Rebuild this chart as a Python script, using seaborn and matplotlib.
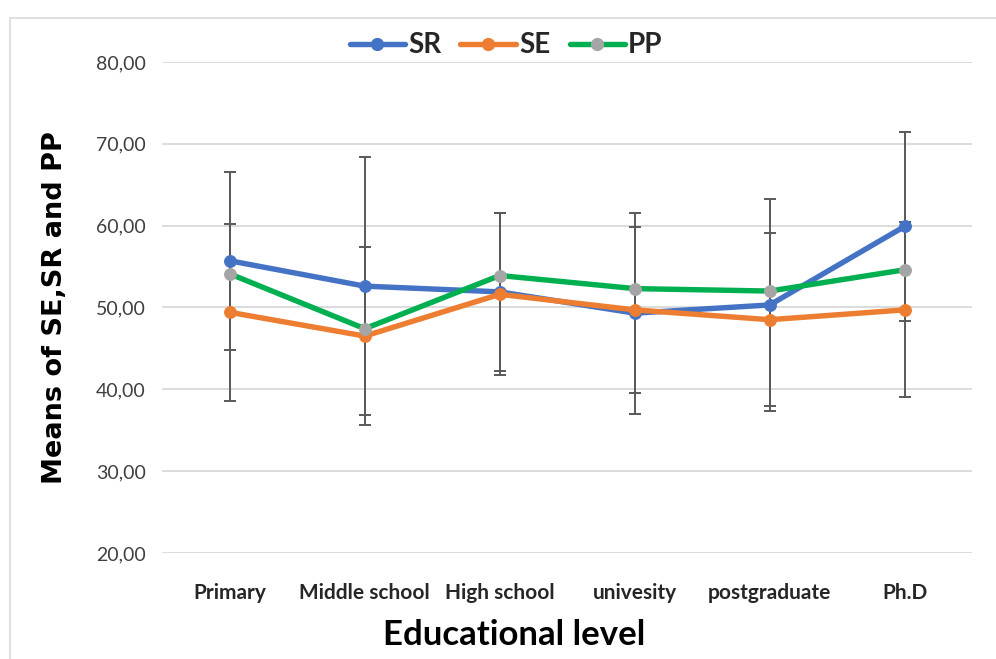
import matplotlib
matplotlib.use("Agg")
import matplotlib.pyplot as plt
import matplotlib.ticker as mtick
from matplotlib.patches import Rectangle
from matplotlib.lines import Line2D
import seaborn as sns
import pandas as pd

# ─── DATA ─────────────────────────────────────────────────────────────────────
levels = ["Primary", "Middle school", "High school", "univesity", "postgraduate", "Ph.D"]
sr = [55.7, 52.6, 51.9, 49.3, 50.3, 59.9]
se = [49.4, 46.5, 51.6, 49.7, 48.5, 49.7]
pp = [54.1, 47.4, 53.9, 52.3, 52.0, 54.6]
sr_err = [10.9, 15.8, 9.7, 12.3, 13.0, 11.5]
se_err = [10.8, 10.9, 9.9, 10.1, 10.6, 10.7]

# ─── STYLE ────────────────────────────────────────────────────────────────────
sns.set_theme(style="white")
plt.rcParams["font.family"] = ["Lato", "DejaVu Sans"]

C_SR, C_SE, C_PP, C_PPM = "#4472C4", "#ED7D31", "#00B050", "#A5A5A5"
LW, MS = 3.9, 8.5

df = pd.DataFrame({
    "level": levels * 3,
    "value": sr + se + pp,
    "series": ["SR"] * 6 + ["SE"] * 6 + ["PP"] * 6,
})
df["x"] = list(range(6)) * 3

fig = plt.figure(figsize=(9.96, 6.59), dpi=100)
ax = fig.add_axes([0.163, 0.161, 0.813, 0.745])

# error bars (behind the lines)
xs = list(range(6))
for vals, err in [(sr, sr_err), (se, se_err)]:
    ax.errorbar(xs, vals, yerr=err, fmt="none", ecolor="#595959", elinewidth=1.4,
                capsize=4, capthick=1.4, zorder=1)

for name, col, mcol in [("SR", C_SR, C_SR), ("SE", C_SE, C_SE), ("PP", C_PP, C_PPM)]:
    sub = df[df["series"] == name]
    sns.lineplot(data=sub, x="x", y="value", color=col, linewidth=LW,
                 marker="o", markersize=MS, markerfacecolor=mcol,
                 markeredgecolor=mcol, ax=ax, zorder=3, legend=False)

ax.set_xlim(-0.5, 5.5)
ax.set_ylim(20, 80)
ax.set_yticks(range(20, 81, 10))
ax.yaxis.set_major_formatter(mtick.FuncFormatter(lambda v, _: f"{v:.2f}".replace(".", ",")))
ax.set_xticks(xs)
ax.set_xticklabels(levels, fontsize=15, fontweight="bold")
ax.tick_params(axis="x", length=0, pad=22)
ax.tick_params(axis="y", length=0, pad=12, labelsize=14, labelcolor="#404040")
ax.grid(axis="y", color="#D9D9D9", linewidth=1.3)
ax.set_axisbelow(True)
for s in ax.spines.values():
    s.set_visible(False)

ax.set_xlabel("")
ax.set_ylabel("Means of SE,SR and PP", fontsize=19.5, fontweight="bold",
              family="DejaVu Sans", labelpad=20, color="black")
fig.text(0.516, 0.036, "Educational level", ha="center", va="center",
         fontsize=25, fontweight="bold", color="black")

handles = [
    Line2D([], [], color=C_SR, lw=LW, marker="o", markersize=MS),
    Line2D([], [], color=C_SE, lw=LW, marker="o", markersize=MS),
    Line2D([], [], color=C_PP, lw=LW, marker="o", markersize=MS,
           markerfacecolor=C_PPM, markeredgecolor=C_PPM),
]
fig.legend(handles, ["SR", "SE", "PP"], loc="center", bbox_to_anchor=(0.508, 0.931),
           ncol=3, frameon=False, handlelength=2.0, handletextpad=0.1,
           columnspacing=0.7, prop={"weight": "bold", "size": 20})

fig.patches.append(Rectangle((0.010, -0.01), 1.0, 0.983, transform=fig.transFigure,
                             fill=False, edgecolor="#D9D9D9", linewidth=1.2))

fig.savefig("out.png", dpi=100)
